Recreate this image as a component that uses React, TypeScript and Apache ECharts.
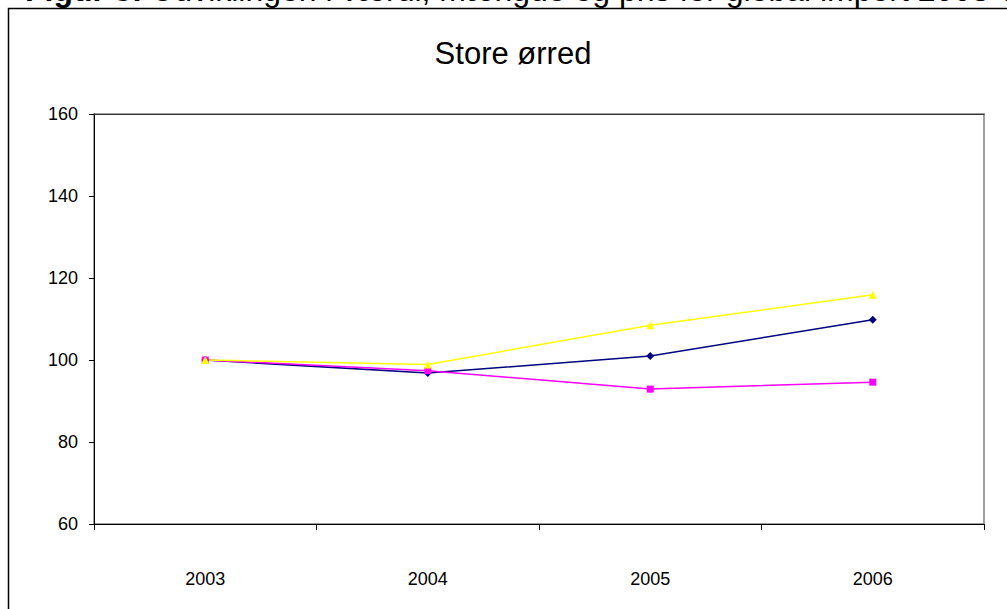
import React, { useEffect, useRef } from "react";
import * as echarts from "echarts";

const years = ["2003", "2004", "2005", "2006"];
const navySeries = [100, 96.8, 101, 109.8];
const magentaSeries = [100, 97.4, 92.9, 94.6];
const yellowSeries = [100, 98.9, 108.5, 115.9];
const figureCaptionBold = "Figur 5:";
const figureCaptionRest = " Udviklingen i værdi, mængde og pris for global import 2003-06";
const chartTitle = "Store ørred";

const FONT = "Arial, 'Liberation Sans', sans-serif";

export default function App() {
  const ref = useRef<HTMLDivElement>(null);
  useEffect(() => {
    if (!ref.current) return;
    const chart = echarts.init(ref.current, null, { renderer: "svg" });
    chart.setOption({
      animation: false,
      backgroundColor: "#ffffff",
      textStyle: { fontFamily: FONT },
      title: {
        text: chartTitle,
        left: 508,
        top: 33,
        textAlign: "center",
        textStyle: { fontSize: 31, fontWeight: "normal", color: "#000", fontFamily: FONT },
      },
      graphic: [
        {
          type: "rect",
          shape: { x: 8.5, y: 8.5, width: 1100, height: 800 },
          style: { fill: "none", stroke: "#000", lineWidth: 1.5 },
          silent: true,
        },
        {
          type: "text",
          x: 25,
          y: -26,
          style: {
            text: "{b|" + figureCaptionBold + "}" + figureCaptionRest,
            font: "32px " + FONT,
            fontSize: 32,
            fontFamily: FONT,
            fill: "#000",
            verticalAlign: "top",
            rich: {
              b: { fontWeight: "bold", fontSize: 32, fontFamily: FONT, fill: "#000" },
            },
          },
          silent: true,
        },
      ],
      grid: {
        left: 94,
        right: 23,
        top: 114,
        bottom: 85,
        show: true,
        borderColor: "#808080",
        borderWidth: 1.5,
        backgroundColor: "transparent",
      },
      xAxis: [
        {
          type: "category",
          data: years,
          boundaryGap: true,
          axisLine: { lineStyle: { color: "#000", width: 1 } },
          axisTick: { show: true, alignWithLabel: false, length: 6, lineStyle: { color: "#000" } },
          axisLabel: { color: "#000", fontSize: 18, margin: 46, fontFamily: FONT },
          splitLine: { show: false },
        },
        {
          type: "category",
          data: years,
          position: "top",
          axisLine: { show: true, lineStyle: { color: "#333", width: 1.2 } },
          axisTick: { show: false },
          axisLabel: { show: false },
          splitLine: { show: false },
        },
      ],
      yAxis: {
        type: "value",
        min: 60,
        max: 160,
        interval: 20,
        axisLine: { show: true, lineStyle: { color: "#000", width: 1 } },
        axisTick: { show: true, length: 5, lineStyle: { color: "#000" } },
        axisLabel: { color: "#000", fontSize: 18, margin: 16, fontFamily: FONT },
        splitLine: { show: false },
      },
      series: [
        {
          type: "line",
          data: navySeries,
          symbol: "diamond",
          symbolSize: 8,
          lineStyle: { color: "#000080", width: 1.5 },
          itemStyle: { color: "#000080" },
        },
        {
          type: "line",
          data: magentaSeries,
          symbol: "rect",
          symbolSize: 7,
          lineStyle: { color: "#FF00FF", width: 1.5 },
          itemStyle: { color: "#FF00FF" },
        },
        {
          type: "line",
          data: yellowSeries,
          symbol: "triangle",
          symbolSize: 8,
          lineStyle: { color: "#FFFF00", width: 1.5 },
          itemStyle: { color: "#FFFF00" },
        },
      ],
    });
    return () => chart.dispose();
  }, []);
  return (
    <div
      ref={ref}
      style={{ position: "absolute", left: 0, top: 0, width: 1007, height: 609 }}
    />
  );
}
